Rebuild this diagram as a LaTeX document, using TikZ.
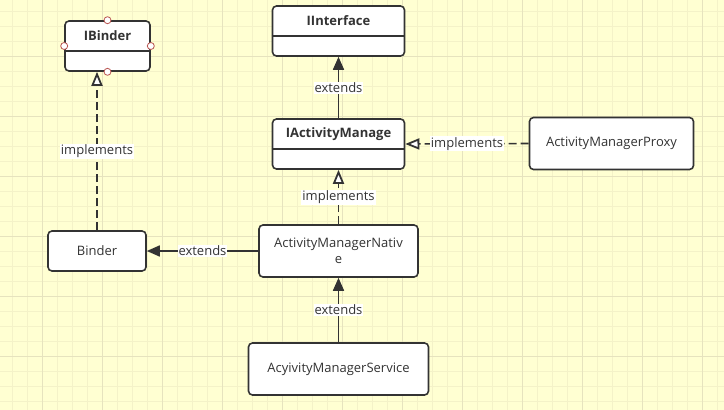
\documentclass[tikz,border=0pt]{standalone}
\usepackage{fontspec}
\setmainfont{Open Sans}
\usetikzlibrary{arrows.meta}
\definecolor{bgc}{HTML}{FFFFD2}
\definecolor{gminor}{HTML}{F4F2C8}
\definecolor{gmajor}{HTML}{E6E3BE}
\definecolor{ink}{HTML}{333333}
\definecolor{pin}{HTML}{B85450}
\tikzset{
  box/.style={draw=ink, line width=1.6pt, fill=white, rounded corners=4pt, inner sep=0pt},
  txt/.style={text=ink, font=\fontsize{13}{16}\selectfont, inner sep=0pt, align=center},
  hdr/.style={text=ink, font=\fontsize{13}{16}\selectfont\bfseries, inner sep=0pt},
  lbl/.style={fill=white, text=ink, font=\fontsize{13}{16}\selectfont, inner sep=1pt},
  ext/.style={draw=ink, line width=1.6pt, -{Triangle[length=13pt,width=11pt]}},
  impl/.style={draw=ink, line width=1.6pt, dash pattern=on 8pt off 4pt, -{Triangle[open,length=14pt,width=11pt,fill=white,line width=1.8pt]}},
  port/.style={circle, draw=pin, fill=white, line width=0.8pt, minimum size=7pt, inner sep=0pt},
}
\begin{document}
\begin{tikzpicture}[x=1pt,y=-1pt]
\useasboundingbox (0,0) rectangle (724,410);
\fill[bgc] (0,0) rectangle (724,410);
\foreach \i in {0,...,48} {\draw[gminor, line width=0.8pt] ({12+15*\i},0) -- ({12+15*\i},410);}
\foreach \i in {0,...,27} {\draw[gminor, line width=0.8pt] (0,{11.7+15*\i}) -- (724,{11.7+15*\i});}
\foreach \i in {0,...,11} {\draw[gmajor, line width=0.8pt] ({42+60*\i},0) -- ({42+60*\i},410);}
\foreach \i in {0,...,6} {\draw[gmajor, line width=0.8pt] (0,{56.7+60*\i}) -- (724,{56.7+60*\i});}

% class boxes with header
\node[box, minimum width=85pt, minimum height=50pt] (ibinder) at (107.5,46) {};
\draw[ink, line width=1.6pt] (ibinder.west |- 0,51) -- (ibinder.east |- 0,51);
\node[hdr] (ibindert) at (107.5,36) {IBinder};

\node[box, minimum width=132pt, minimum height=50pt] (iinterface) at (338.5,31) {};
\draw[ink, line width=1.6pt] (iinterface.west |- 0,36) -- (iinterface.east |- 0,36);
\node[hdr] (iinterfacet) at (338.5,21) {IInterface};

\node[box, minimum width=132pt, minimum height=50pt] (iam) at (338.5,144) {};
\draw[ink, line width=1.6pt] (iam.west |- 0,149) -- (iam.east |- 0,149);
\node[hdr] (iamt) at (338.5,134) {IActivityManage};

% plain boxes
\node[box, minimum width=164pt, minimum height=52pt] (proxy) at (611.5,143.5) {};
\node[txt] (proxyt) at (proxy) {ActivityManagerProxy};
\node[box, minimum width=98pt, minimum height=40pt] (binder) at (97,251) {};
\node[txt] (bindert) at (binder) {Binder};
\node[box, minimum width=159pt, minimum height=52pt] (native) at (338.5,251) {};
\node[txt] (nativet) at (native) {ActivityManagerNativ\\e};
\node[box, minimum width=180pt, minimum height=52pt] (service) at (338.5,369) {};
\node[txt] (servicet) at (service) {AcyivityManagerService};

% ports on IBinder
\node[port] (p1) at (ibinder.north) {};
\node[port] (p2) at (ibinder.south) {};
\node[port] (p3) at (ibinder.west) {};
\node[port] (p4) at (ibinder.east) {};

% connectors
\draw[impl] (binder.north) -- node[lbl] {implements} (binder.north |- ibinder.south);
\draw[ext] (native.west) -- node[lbl] {extends} (binder.east);
\draw[impl] (native.north) -- node[lbl] {implements} (iam.south);
\draw[ext] (iam.north) -- node[lbl] {extends} (iinterface.south);
\draw[impl] (proxy.west) -- node[lbl] {implements} (iam.east);
\draw[ext] (service.north) -- node[lbl] {extends} (native.south);
\end{tikzpicture}
\end{document}
